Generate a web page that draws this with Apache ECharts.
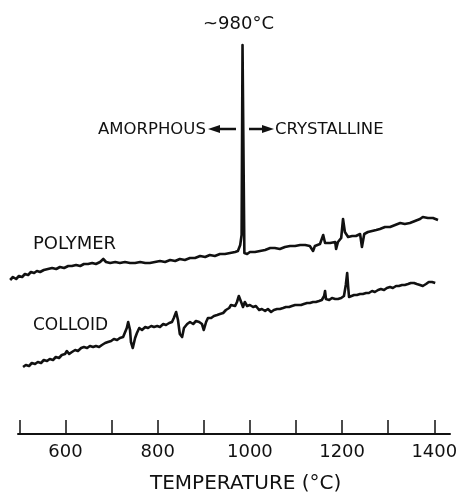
<!DOCTYPE html>
<html>
<head>
<meta charset="utf-8">
<script src="https://cdn.jsdelivr.net/npm/echarts@6/dist/echarts.min.js"></script>
<style>
  html, body { margin: 0; padding: 0; background: #fff; }
  #chart { width: 462px; height: 496px; }
</style>
</head>
<body>
<div id="chart"></div>
<script>
// temperature (°C), signal (arbitrary units)
var polymerTrace = [
  [480,154],[486,157],[493,155],[499,158],[506,157],[512,160],[519,159],[525,162],[532,161],[538,163],
  [545,162],[553,164],[562,165],[571,166],[580,165],[588,167],[597,166],[606,168],[614,168],[623,169],
  [632,168],[640,170],[649,170],[658,171],[666,170],[675,172],[682,175],[688,172],[697,171],[708,172],
  [718,171],[729,172],[740,171],[751,171],[762,172],[773,171],[783,171],[794,172],[805,173],[816,172],
  [827,174],[838,173],[848,175],[859,174],[870,176],[881,176],[892,178],[903,177],[913,179],[924,178],
  [935,180],[946,180],[957,181],[968,182],[974,183],[979,189],[982,199],[984,389],[986,389],[988,181],
  [994,180],[1000,182],[1011,182],[1022,183],[1033,184],[1044,186],[1054,186],[1065,185],[1076,187],[1087,188],
  [1098,188],[1109,189],[1120,189],[1130,188],[1137,183],[1141,188],[1152,190],[1159,199],[1163,191],[1174,191],
  [1185,192],[1187,185],[1191,192],[1198,196],[1202,215],[1206,202],[1213,197],[1222,198],[1230,198],[1239,200],
  [1243,187],[1248,200],[1256,202],[1265,203],[1274,204],[1282,205],[1293,207],[1304,207],[1315,209],[1326,211],
  [1336,210],[1347,211],[1358,213],[1369,215],[1375,217],[1386,216],[1397,216],[1408,214]
];
var colloidTrace = [
  [508,67],[514,69],[521,68],[527,71],[534,70],[540,72],[547,71],[553,74],[560,73],[566,75],
  [573,74],[579,77],[586,76],[592,79],[599,80],[603,83],[608,80],[614,82],[621,84],[627,83],
  [634,86],[640,87],[647,86],[653,88],[660,87],[666,88],[673,87],[679,89],[686,91],[692,92],
  [699,93],[705,95],[712,94],[718,96],[725,97],[729,99],[733,106],[736,112],[740,104],[742,92],
  [746,86],[751,96],[755,101],[760,106],[766,104],[773,107],[779,106],[786,108],[792,107],[799,108],
  [805,107],[812,110],[818,109],[825,111],[831,112],[835,116],[840,122],[844,114],[848,100],[853,97],
  [857,106],[864,110],[870,112],[877,110],[883,113],[890,112],[896,110],[900,104],[905,112],[909,116],
  [916,116],[922,118],[929,119],[935,120],[942,121],[948,124],[955,126],[959,129],[963,130],[968,128],
  [972,132],[976,138],[981,132],[985,127],[989,132],[994,128],[1000,129],[1007,127],[1013,128],[1020,124],
  [1026,125],[1033,123],[1039,125],[1046,122],[1052,124],[1059,125],[1065,125],[1072,126],[1078,127],[1085,127],
  [1091,128],[1098,129],[1104,129],[1111,129],[1117,130],[1124,131],[1130,131],[1137,132],[1143,132],[1150,133],
  [1156,134],[1161,138],[1163,143],[1165,135],[1172,134],[1178,136],[1185,135],[1191,135],[1198,136],[1204,138],
  [1208,149],[1211,161],[1213,148],[1215,137],[1219,138],[1226,139],[1232,139],[1239,140],[1245,140],[1252,141],
  [1258,141],[1265,143],[1271,142],[1278,144],[1284,145],[1291,144],[1297,146],[1304,147],[1310,146],[1317,148],
  [1323,148],[1330,149],[1336,149],[1343,150],[1349,151],[1356,151],[1362,150],[1369,149],[1375,148],[1382,150],
  [1388,152],[1395,152],[1402,151]
];
var tickValues = [500, 600, 700, 800, 900, 1000, 1100, 1200, 1300, 1400];
var labelValues = [600, 800, 1000, 1200, 1400];
var axisTitle = 'TEMPERATURE (°C)';
var peakLabel = '~980°C';

var ink = '#111';
var font = 'DejaVu Sans';
var myChart = echarts.init(document.getElementById('chart'), null, { renderer: 'canvas' });

var option = {
  backgroundColor: '#fff',
  animation: false,
  grid: [
    { left: 0, right: 12, top: 0, bottom: 62 },   // traces
    { left: 18, right: 12, top: 300, bottom: 62 } // visible temperature axis
  ],
  xAxis: [
    { gridIndex: 0, type: 'value', min: 458, max: 1434, show: false },
    {
      gridIndex: 1, type: 'value', min: 497, max: 1434,
      axisLine: { show: true, onZero: false, lineStyle: { color: ink, width: 2 } },
      axisTick: { show: true, inside: true, length: 14, customValues: tickValues,
        lineStyle: { color: ink, width: 1.5 } },
      axisLabel: { customValues: labelValues, margin: 9, fontSize: 18,
        fontFamily: font, color: ink, formatter: function (v) { return String(v); } },
      splitLine: { show: false }
    }
  ],
  yAxis: [
    { gridIndex: 0, type: 'value', min: 0, max: 434, show: false },
    { gridIndex: 1, type: 'value', min: 0, max: 1, show: false }
  ],
  series: [
    {
      name: 'POLYMER', type: 'line', xAxisIndex: 0, yAxisIndex: 0,
      data: polymerTrace, showSymbol: false, smooth: false,
      lineStyle: { color: ink, width: 2.6, join: 'round' }
    },
    {
      name: 'COLLOID', type: 'line', xAxisIndex: 0, yAxisIndex: 0,
      data: colloidTrace, showSymbol: false, smooth: false,
      lineStyle: { color: ink, width: 2.6, join: 'round' }
    }
  ],
  graphic: [
    { type: 'text', left: 203, top: 15, style: { text: peakLabel, font: '18px "DejaVu Sans"', fill: ink } },
    { type: 'text', left: 98, top: 121, style: { text: 'AMORPHOUS', font: '16.5px "DejaVu Sans"', fill: ink } },
    { type: 'text', left: 275, top: 121, style: { text: 'CRYSTALLINE', font: '16.5px "DejaVu Sans"', fill: ink } },
    { type: 'text', left: 33, top: 235, style: { text: 'POLYMER', font: '18px "DejaVu Sans"', fill: ink } },
    { type: 'text', left: 33, top: 317, style: { text: 'COLLOID', font: '17px "DejaVu Sans"', fill: ink } },
    { type: 'text', left: 150, top: 474, style: { text: axisTitle, font: '20px "DejaVu Sans"', fill: ink } },
    // arrows
    { type: 'line', shape: { x1: 216, y1: 129, x2: 236, y2: 129 }, style: { stroke: ink, lineWidth: 2.5 } },
    { type: 'polygon', shape: { points: [[208, 129], [220, 125], [220, 133]] }, style: { fill: ink } },
    { type: 'line', shape: { x1: 249, y1: 129, x2: 268, y2: 129 }, style: { stroke: ink, lineWidth: 2.5 } },
    { type: 'polygon', shape: { points: [[274, 129], [262, 125], [262, 133]] }, style: { fill: ink } }
  ]
};
myChart.setOption(option);
</script>
</body>
</html>
